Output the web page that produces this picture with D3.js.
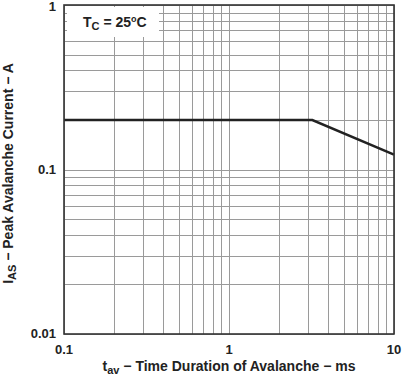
<!DOCTYPE html>
<html lang="en">
<head>
  <meta charset="UTF-8">
  <title>Peak Avalanche Current vs Time Duration of Avalanche</title>
  <script src="https://d3js.org/d3.v7.min.js"></script>
  <style>
    body { margin: 0; background: #fff; }
    svg { display: block; font-family: Arial, "Liberation Sans", sans-serif; }
    .tick-label { font-size: 13px; font-weight: bold; fill: #222; }
    .axis-title { font-size: 14px; font-weight: bold; fill: #222; }
  </style>
</head>
<body>
  <svg id="chart" width="402" height="378"></svg>
  <script>
    // curve: avalanche time (ms) -> peak avalanche current (A)
    const tav = [0.1, 3.2, 10];
    const ias = [0.2, 0.2, 0.123];

    const xTicks = [0.1, 1, 10];
    const yTicks = [0.01, 0.1, 1];

    const svg = d3.select("#chart");
    const margin = { top: 5, right: 8, bottom: 44, left: 64 };
    const width = +svg.attr("width");
    const height = +svg.attr("height");

    const x = d3.scaleLog().domain([0.1, 10]).range([margin.left, width - margin.right]);
    const y = d3.scaleLog().domain([0.01, 1]).range([height - margin.bottom, margin.top]);

    // minor grid values 1..9 per decade
    function gridVals(lo, hi) {
      const vals = [];
      for (let d = lo; d < hi - 1e-9; d *= 10) {
        for (let k = 1; k <= 9; k++) vals.push(d * k);
      }
      vals.push(hi);
      return vals;
    }

    const grid = svg.append("g").attr("stroke", "#9a9a9a").attr("stroke-width", 1);
    grid.selectAll(".gx")
      .data(gridVals(0.1, 10))
      .join("line")
      .attr("x1", d => Math.round(x(d)) + 0.5)
      .attr("x2", d => Math.round(x(d)) + 0.5)
      .attr("y1", y(1))
      .attr("y2", y(0.01));
    grid.selectAll(".gy")
      .data(gridVals(0.01, 1))
      .join("line")
      .attr("y1", d => Math.round(y(d)) + 0.5)
      .attr("y2", d => Math.round(y(d)) + 0.5)
      .attr("x1", x(0.1))
      .attr("x2", x(10));

    // label box covering grid
    svg.append("rect")
      .attr("x", x(0.1) + 3)
      .attr("y", y(1) + 2)
      .attr("width", 92)
      .attr("height", 30)
      .attr("fill", "#fff");

    const tc = svg.append("text")
      .attr("class", "axis-title")
      .attr("x", x(0.1) + 19)
      .attr("y", 27);
    tc.append("tspan").text("T");
    tc.append("tspan").attr("dy", 3).style("font-size", "11px").text("C");
    tc.append("tspan").attr("dy", -3).text(" = 25");
    tc.append("tspan").attr("dy", -5).style("font-size", "9px").text("o");
    tc.append("tspan").attr("dy", 5).text("C");

    // curve
    const line = d3.line()
      .x((d, i) => x(tav[i]))
      .y(d => y(d));
    svg.append("path")
      .datum(ias)
      .attr("fill", "none")
      .attr("stroke", "#222")
      .attr("stroke-width", 2.5)
      .attr("d", line);

    // frame
    svg.append("rect")
      .attr("x", x(0.1))
      .attr("y", y(1))
      .attr("width", x(10) - x(0.1))
      .attr("height", y(0.01) - y(1))
      .attr("fill", "none")
      .attr("stroke", "#333")
      .attr("stroke-width", 1.6);

    // tick labels
    svg.selectAll(".xl")
      .data(xTicks)
      .join("text")
      .attr("class", "tick-label")
      .attr("x", d => x(d))
      .attr("y", y(0.01) + 20)
      .attr("text-anchor", "middle")
      .text(d => d);

    svg.selectAll(".yl")
      .data(yTicks)
      .join("text")
      .attr("class", "tick-label")
      .attr("x", x(0.1) - 8)
      .attr("y", d => Math.max(y(d) + 4, 11))
      .attr("text-anchor", "end")
      .text(d => d);

    // axis titles
    const xt = svg.append("text")
      .attr("class", "axis-title")
      .attr("x", (x(0.1) + x(10)) / 2)
      .attr("y", 371)
      .attr("text-anchor", "middle");
    xt.append("tspan").text("t");
    xt.append("tspan").attr("dy", 3).style("font-size", "11px").text("av");
    xt.append("tspan").attr("dy", -3).text(" \u2212 Time Duration of Avalanche \u2212 ms");

    const yt = svg.append("text")
      .attr("class", "axis-title")
      .attr("transform", `translate(13,${(y(1) + y(0.01)) / 2 + 4}) rotate(-90)`)
      .attr("text-anchor", "middle");
    yt.append("tspan").text("I");
    yt.append("tspan").attr("dy", 3).style("font-size", "11px").text("AS");
    yt.append("tspan").attr("dy", -3).text(" \u2212 Peak Avalanche Current \u2212 A");
  </script>
</body>
</html>
